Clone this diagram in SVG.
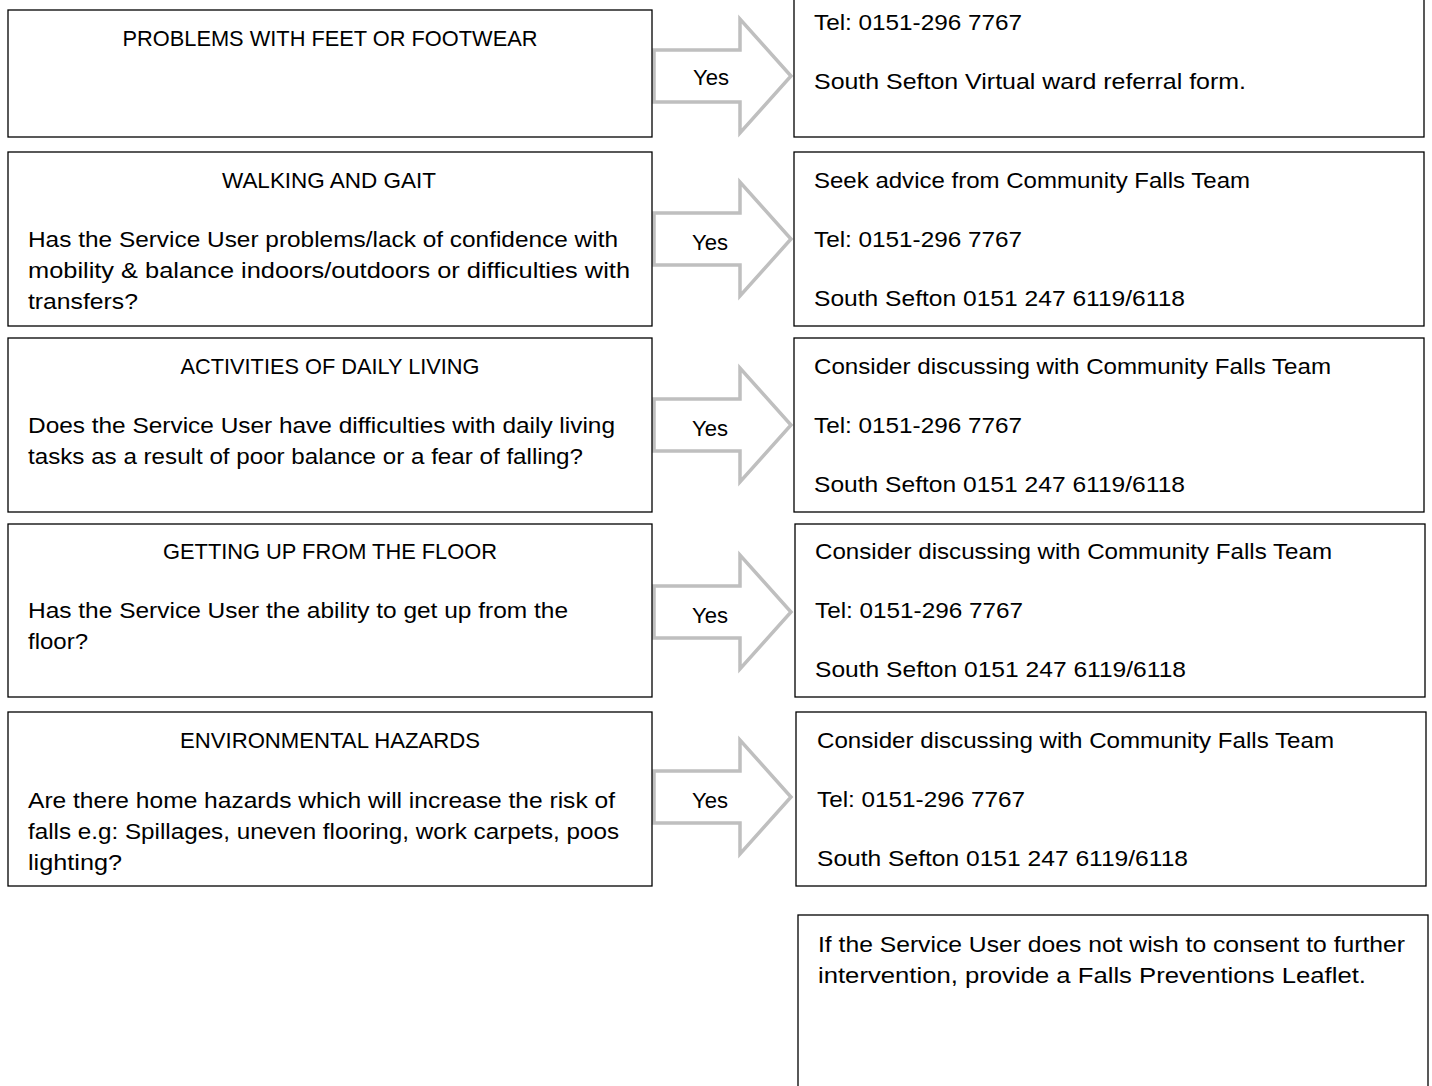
<svg xmlns="http://www.w3.org/2000/svg" width="1432" height="1086" viewBox="0 0 1432 1086">
<defs>
<style>
.box{fill:#fff;stroke:#000;stroke-width:1.3}
.arr{fill:#fff;stroke:#bfbfbf;stroke-width:3.5;stroke-linejoin:miter}
text{font-family:"Liberation Sans",Arial,sans-serif;font-size:21.5px;fill:#000}
.c{text-anchor:middle}
</style>
<path id="arrow" class="arr" d="M654,-26 H740 V-57 L791,0 L740,57 V26 H654 Z"/>
</defs>
<rect width="1432" height="1086" fill="#fff"/>
<g id="connectors">
<g transform="translate(0,76)"><use href="#arrow"/><text class="c" x="711" y="9" textLength="36" lengthAdjust="spacingAndGlyphs">Yes</text></g>
<g transform="translate(0,239)"><use href="#arrow"/><text class="c" x="710" y="11" textLength="36" lengthAdjust="spacingAndGlyphs">Yes</text></g>
<g transform="translate(0,425)"><use href="#arrow"/><text class="c" x="710" y="11" textLength="36" lengthAdjust="spacingAndGlyphs">Yes</text></g>
<g transform="translate(0,612)"><use href="#arrow"/><text class="c" x="710" y="11" textLength="36" lengthAdjust="spacingAndGlyphs">Yes</text></g>
<g transform="translate(0,797)"><use href="#arrow"/><text class="c" x="710" y="11" textLength="36" lengthAdjust="spacingAndGlyphs">Yes</text></g>
</g>
<g id="q1"><rect class="box" x="8" y="10" width="644" height="127"/><text class="c" x="330" y="46" textLength="415" lengthAdjust="spacingAndGlyphs">PROBLEMS WITH FEET OR FOOTWEAR</text></g>
<g id="q2"><rect class="box" x="8" y="152" width="644" height="174"/><text class="c" x="329" y="188" textLength="214" lengthAdjust="spacingAndGlyphs">WALKING AND GAIT</text>
<text x="28" y="247" textLength="590" lengthAdjust="spacingAndGlyphs">Has the Service User problems/lack of confidence with</text>
<text x="28" y="278" textLength="602" lengthAdjust="spacingAndGlyphs">mobility &amp; balance indoors/outdoors or difficulties with</text>
<text x="28" y="309" textLength="110" lengthAdjust="spacingAndGlyphs">transfers?</text></g>
<g id="q3"><rect class="box" x="8" y="338" width="644" height="174"/><text class="c" x="330" y="374" textLength="299" lengthAdjust="spacingAndGlyphs">ACTIVITIES OF DAILY LIVING</text>
<text x="28" y="433" textLength="587" lengthAdjust="spacingAndGlyphs">Does the Service User have difficulties with daily living</text>
<text x="28" y="464" textLength="555" lengthAdjust="spacingAndGlyphs">tasks as a result of poor balance or a fear of falling?</text></g>
<g id="q4"><rect class="box" x="8" y="524" width="644" height="173"/><text class="c" x="330" y="559" textLength="334" lengthAdjust="spacingAndGlyphs">GETTING UP FROM THE FLOOR</text>
<text x="28" y="618" textLength="540" lengthAdjust="spacingAndGlyphs">Has the Service User the ability to get up from the</text>
<text x="28" y="649" textLength="60" lengthAdjust="spacingAndGlyphs">floor?</text></g>
<g id="q5"><rect class="box" x="8" y="712" width="644" height="174"/><text class="c" x="330" y="748" textLength="300" lengthAdjust="spacingAndGlyphs">ENVIRONMENTAL HAZARDS</text>
<text x="28" y="808" textLength="587" lengthAdjust="spacingAndGlyphs">Are there home hazards which will increase the risk of</text>
<text x="28" y="839" textLength="591" lengthAdjust="spacingAndGlyphs">falls e.g: Spillages, uneven flooring, work carpets, poos</text>
<text x="28" y="870" textLength="94" lengthAdjust="spacingAndGlyphs">lighting?</text></g>
<g id="a1"><rect class="box" x="794" y="-5" width="630" height="142"/>
<text x="814" y="30" textLength="208" lengthAdjust="spacingAndGlyphs">Tel: 0151-296 7767</text>
<text x="814" y="89" textLength="432" lengthAdjust="spacingAndGlyphs">South Sefton Virtual ward referral form.</text></g>
<g id="a2"><rect class="box" x="794" y="152" width="630" height="174"/>
<text x="814" y="188" textLength="436" lengthAdjust="spacingAndGlyphs">Seek advice from Community Falls Team</text>
<text x="814" y="247" textLength="208" lengthAdjust="spacingAndGlyphs">Tel: 0151-296 7767</text>
<text x="814" y="306" textLength="371" lengthAdjust="spacingAndGlyphs">South Sefton 0151 247 6119/6118</text></g>
<g id="a3"><rect class="box" x="794" y="338" width="630" height="174"/>
<text x="814" y="374" textLength="517" lengthAdjust="spacingAndGlyphs">Consider discussing with Community Falls Team</text>
<text x="814" y="433" textLength="208" lengthAdjust="spacingAndGlyphs">Tel: 0151-296 7767</text>
<text x="814" y="492" textLength="371" lengthAdjust="spacingAndGlyphs">South Sefton 0151 247 6119/6118</text></g>
<g id="a4"><rect class="box" x="795" y="524" width="630" height="173"/>
<text x="815" y="559" textLength="517" lengthAdjust="spacingAndGlyphs">Consider discussing with Community Falls Team</text>
<text x="815" y="618" textLength="208" lengthAdjust="spacingAndGlyphs">Tel: 0151-296 7767</text>
<text x="815" y="677" textLength="371" lengthAdjust="spacingAndGlyphs">South Sefton 0151 247 6119/6118</text></g>
<g id="a5"><rect class="box" x="796" y="712" width="630" height="174"/>
<text x="817" y="748" textLength="517" lengthAdjust="spacingAndGlyphs">Consider discussing with Community Falls Team</text>
<text x="817" y="807" textLength="208" lengthAdjust="spacingAndGlyphs">Tel: 0151-296 7767</text>
<text x="817" y="866" textLength="371" lengthAdjust="spacingAndGlyphs">South Sefton 0151 247 6119/6118</text></g>
<g id="note"><rect class="box" x="798" y="915" width="630" height="200"/>
<text x="818" y="952" textLength="587" lengthAdjust="spacingAndGlyphs">If the Service User does not wish to consent to further</text>
<text x="818" y="983" textLength="548" lengthAdjust="spacingAndGlyphs">intervention, provide a Falls Preventions Leaflet.</text></g>
</svg>
